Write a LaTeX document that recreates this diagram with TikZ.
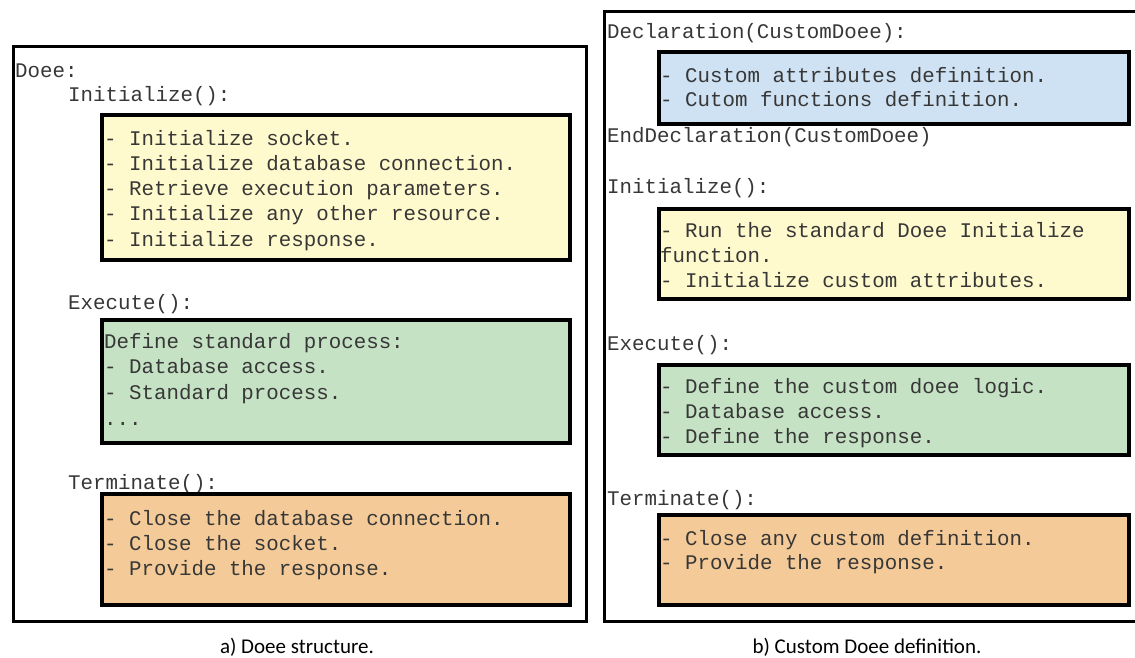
\documentclass[tikz,border=0pt]{standalone}
\usepackage{fontspec}
\newfontfamily\codefont{Liberation Mono}
\newfontfamily\capfont{Carlito}
\definecolor{boxyellow}{RGB}{255,250,205}
\definecolor{boxblue}{RGB}{207,226,243}
\definecolor{boxgreen}{RGB}{198,226,196}
\definecolor{boxorange}{RGB}{244,203,152}
\definecolor{codetext}{RGB}{55,55,55}
\begin{document}
\begin{tikzpicture}[x=1pt,y=-1pt,
  outerbox/.style={draw=black,line width=3pt},
  innerbox/.style={draw=black,line width=3.8pt},
  code/.style={anchor=base west,inner sep=0pt,text=codetext,font=\codefont\fontsize{20.8}{24.6}\selectfont},
  captext/.style={anchor=base,inner sep=0pt,font=\capfont\fontsize{21}{25}\selectfont}]
\useasboundingbox (0,0) rectangle (1135,657);
% ---------- left panel ----------
\node[outerbox,anchor=north west,minimum width=573,minimum height=575,inner sep=0pt] (Lout) at (12,45) {};
\node[code] (Ldoee) at (15,77) {Doee:};
\node[code] (Linit) at (68,101) {Initialize():};
\node[innerbox,fill=boxyellow,anchor=north west,minimum width=468,minimum height=145,inner sep=0pt] (Ly) at (100,113) {};
\node[code] (Ly1) at (104,145) {- Initialize socket.};
\node[code] (Ly2) at (104,170.3) {- Initialize database connection.};
\node[code] (Ly3) at (104,195.6) {- Retrieve execution parameters.};
\node[code] (Ly4) at (104,220.9) {- Initialize any other resource.};
\node[code] (Ly5) at (104,246.2) {- Initialize response.};
\node[code] (Lexec) at (68,309) {Execute():};
\node[innerbox,fill=boxgreen,anchor=north west,minimum width=468,minimum height=123,inner sep=0pt] (Lg) at (100,318) {};
\node[code] (Lg1) at (104,348) {Define standard process:};
\node[code] (Lg2) at (104,373.7) {- Database access.};
\node[code] (Lg3) at (104,399.4) {- Standard process.};
\node[code] (Lg4) at (104,425) {...};
\node[code] (Lterm) at (68,489) {Terminate():};
\node[innerbox,fill=boxorange,anchor=north west,minimum width=468,minimum height=111,inner sep=0pt] (Lo) at (100,492) {};
\node[code] (Lo1) at (104,525) {- Close the database connection.};
\node[code] (Lo2) at (104,550.3) {- Close the socket.};
\node[code] (Lo3) at (104,575.6) {- Provide the response.};
\node[captext] (Lcap) at (297,653) {a) Doee structure.};
% ---------- right panel ----------
\node[outerbox,anchor=north west,minimum width=545,minimum height=610,inner sep=0pt] (Rout) at (603,10) {};
\node[code] (Rdecl) at (607,38) {Declaration(CustomDoee):};
\node[innerbox,fill=boxblue,anchor=north west,minimum width=470,minimum height=72,inner sep=0pt] (Rb) at (657,50) {};
\node[code] (Rb1) at (660,82) {- Custom attributes definition.};
\node[code] (Rb2) at (660,106) {- Cutom functions definition.};
\node[code] (Rend) at (607,142) {EndDeclaration(CustomDoee)};
\node[code] (Rinit) at (607,193) {Initialize():};
\node[innerbox,fill=boxyellow,anchor=north west,minimum width=470,minimum height=90,inner sep=0pt] (Ry) at (657,207) {};
\node[code] (Ry1) at (660,237) {- Run the standard Doee Initialize};
\node[code] (Ry2) at (660,262) {function.};
\node[code] (Ry3) at (660,287) {- Initialize custom attributes.};
\node[code] (Rexec) at (607,350) {Execute():};
\node[innerbox,fill=boxgreen,anchor=north west,minimum width=470,minimum height=90,inner sep=0pt] (Rg) at (657,363) {};
\node[code] (Rg1) at (660,393) {- Define the custom doee logic.};
\node[code] (Rg2) at (660,418) {- Database access.};
\node[code] (Rg3) at (660,443.5) {- Define the response.};
\node[code] (Rterm) at (607,505) {Terminate():};
\node[innerbox,fill=boxorange,anchor=north west,minimum width=470,minimum height=90,inner sep=0pt] (Ro) at (657,513) {};
\node[code] (Ro1) at (660,545) {- Close any custom definition.};
\node[code] (Ro2) at (660,569) {- Provide the response.};
\node[captext] (Rcap) at (867,653) {b) Custom Doee definition.};
\end{tikzpicture}
\end{document}
